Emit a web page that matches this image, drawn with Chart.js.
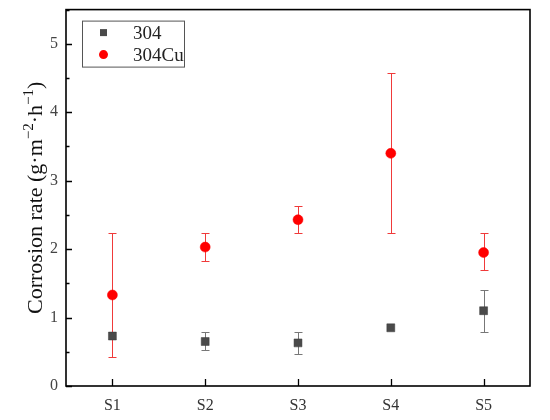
<!DOCTYPE html>
<html>
<head>
<meta charset="utf-8">
<script src="https://cdn.jsdelivr.net/npm/chart.js@4.4.1/dist/chart.umd.min.js"></script>
<style>
  html, body { margin: 0; padding: 0; background: #fff; }
  #wrap { width: 550px; height: 420px; }
</style>
</head>
<body>
<div id="wrap"><canvas id="rateChart"></canvas></div>
<script>
const categories = ["S1", "S2", "S3", "S4", "S5"];

const rate304 = [0.73, 0.65, 0.63, 0.85, 1.10];
const low304 = [0.73, 0.52, 0.47, 0.85, 0.79];
const high304 = [0.73, 0.79, 0.79, 0.85, 1.41];

const rate304Cu = [1.33, 2.03, 2.43, 3.40, 1.95];
const low304Cu = [0.43, 1.83, 2.23, 2.23, 1.69];
const high304Cu = [2.23, 2.23, 2.63, 4.57, 2.23];

const yTicks = [0, 1, 2, 3, 4, 5];

const FONT = "'Liberation Serif', 'Times New Roman', serif";

function points(vals, lo, hi) {
  return vals.map((v, i) => ({ x: i + 1, y: v, lo: lo[i], hi: hi[i] }));
}

// error bars, drawn under the markers
const errorBars = {
  id: "errorBars",
  beforeDatasetsDraw(chart) {
    const { ctx, scales: { x, y } } = chart;
    chart.data.datasets.forEach(ds => {
      ctx.save();
      ctx.strokeStyle = ds.errColor;
      ctx.lineWidth = 1;
      ds.data.forEach(p => {
        if (p.hi === p.lo) return;
        const px = Math.round(x.getPixelForValue(p.x)) + 0.5;
        const yt = Math.round(y.getPixelForValue(p.hi)) + 0.5;
        const yb = Math.round(y.getPixelForValue(p.lo)) + 0.5;
        ctx.beginPath();
        ctx.moveTo(px, yt); ctx.lineTo(px, yb);
        ctx.moveTo(px - 4, yt); ctx.lineTo(px + 4, yt);
        ctx.moveTo(px - 4, yb); ctx.lineTo(px + 4, yb);
        ctx.stroke();
      });
      ctx.restore();
    });
  }
};

// frame, inward ticks, y title with superscripts, legend box
const frame = {
  id: "frame",
  afterDraw(chart) {
    const { ctx, chartArea: a, scales: { x, y } } = chart;
    ctx.save();
    ctx.strokeStyle = "#000";
    ctx.lineWidth = 1.6;
    ctx.strokeRect(a.left, a.top, a.right - a.left, a.bottom - a.top);
    ctx.lineWidth = 1.3;
    ctx.beginPath();
    for (let v = 0; v <= 5.5; v += 0.5) {
      const py = Math.round(y.getPixelForValue(v)) + 0.5;
      const len = Number.isInteger(v) ? 6 : 3.5;
      ctx.moveTo(a.left, py); ctx.lineTo(a.left + len, py);
    }
    categories.forEach((c, i) => {
      const px = Math.round(x.getPixelForValue(i + 1)) + 0.5;
      ctx.moveTo(px, a.bottom); ctx.lineTo(px, a.bottom - 7);
    });
    ctx.stroke();

    // y axis title
    const parts = [
      { t: "Corrosion rate (g·m", sup: false },
      { t: "−2", sup: true },
      { t: "·h", sup: false },
      { t: "−1", sup: true },
      { t: ")", sup: false }
    ];
    const base = "22px " + FONT, small = "15px " + FONT;
    let total = 0;
    parts.forEach(p => { ctx.font = p.sup ? small : base; p.w = ctx.measureText(p.t).width; total += p.w; });
    ctx.translate(42, (a.top + a.bottom) / 2);
    ctx.rotate(-Math.PI / 2);
    ctx.fillStyle = "#111";
    ctx.textBaseline = "alphabetic";
    let cx = -total / 2;
    parts.forEach(p => {
      ctx.font = p.sup ? small : base;
      ctx.fillText(p.t, cx, p.sup ? -9 : 0);
      cx += p.w;
    });
    ctx.setTransform(1, 0, 0, 1, 0, 0);

    // legend
    const lx = a.left + 16, ly = a.top + 11;
    ctx.strokeStyle = "#555";
    ctx.lineWidth = 1;
    ctx.strokeRect(lx + 0.5, ly + 0.5, 102, 46);
    ctx.font = "19px " + FONT;
    ctx.textBaseline = "middle";
    chart.data.datasets.forEach((ds, i) => {
      const cy = ly + 12 + i * 22;
      ctx.fillStyle = ds.backgroundColor;
      if (ds.pointStyle === "rect") {
        ctx.fillRect(lx + 18, cy - 3.5, 7, 7);
      } else {
        ctx.beginPath();
        ctx.arc(lx + 21.5, cy, 4.5, 0, Math.PI * 2);
        ctx.fill();
      }
      ctx.fillStyle = "#222";
      ctx.fillText(ds.label, lx + 51, cy + 1);
    });
    ctx.restore();
  }
};

new Chart(document.getElementById("rateChart"), {
  type: "scatter",
  data: {
    datasets: [{
      label: "304",
      data: points(rate304, low304, high304),
      pointStyle: "rect",
      pointRadius: 5.6,
      backgroundColor: "#4a4a4a",
      borderColor: "#3a3a3a",
      borderWidth: 0.5,
      errColor: "#777777"
    }, {
      label: "304Cu",
      data: points(rate304Cu, low304Cu, high304Cu),
      pointStyle: "circle",
      pointRadius: 5,
      backgroundColor: "#ff0000",
      borderColor: "#ff0000",
      borderWidth: 0.5,
      errColor: "#f03a3a"
    }]
  },
  options: {
    animation: false,
    responsive: true,
    maintainAspectRatio: false,
    layout: { padding: { top: 7, right: 20, left: 0, bottom: 0 } },
    plugins: { legend: { display: false }, tooltip: { enabled: false } },
    scales: {
      x: {
        type: "linear",
        min: 0.5, max: 5.5,
        afterFit(s) { s.height = 34; },
        afterBuildTicks(s) { s.ticks = categories.map((c, i) => ({ value: i + 1 })); },
        grid: { display: false },
        border: { display: false },
        ticks: {
          color: "#333",
          font: { family: FONT, size: 16 },
          padding: 2,
          callback: v => categories[v - 1]
        }
      },
      y: {
        min: 0, max: 5.5,
        afterFit(s) { s.width = 66; },
        afterBuildTicks(s) { s.ticks = yTicks.map(v => ({ value: v })); },
        grid: { display: false },
        border: { display: false },
        ticks: {
          color: "#444",
          font: { family: FONT, size: 16 },
          padding: 0
        }
      }
    }
  },
  plugins: [errorBars, frame]
});
</script>
</body>
</html>
